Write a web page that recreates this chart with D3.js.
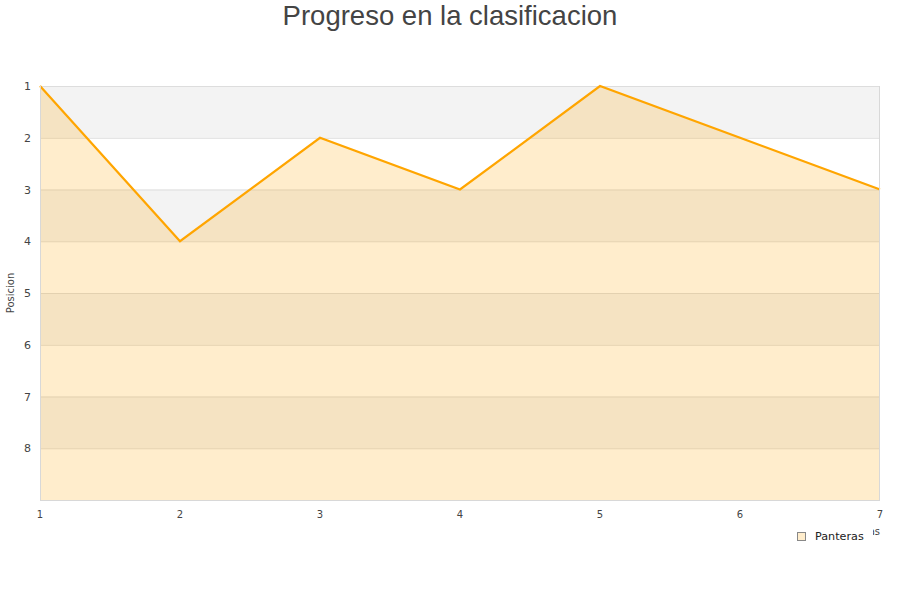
<!DOCTYPE html>
<html><head><meta charset="utf-8">
<script src="https://cdn.jsdelivr.net/npm/d3@7"></script>
<style>body{margin:0;background:#fff}svg{display:block}</style>
</head><body><svg id="c" width="900" height="600"></svg>
<script>
const jornadas = [1,2,3,4,5,6,7];
const posiciones = [1,4,2,3,1,2,3];
const yTicks = [1,2,3,4,5,6,7,8];
const title = "Progreso en la clasificacion";
const seriesName = "Panteras";

const svg = d3.select("#c");
const L=40,R=880,T=86,B=500;
const x = d3.scaleLinear().domain([1,7]).range([L,R]);
const y = d3.scaleLinear().domain([1,9]).range([T,B]);

// bands
const bands = d3.range(1,9);
svg.selectAll("rect.band").data(bands).enter().append("rect")
  .attr("x",L).attr("width",R-L)
  .attr("y",d=>y(d)).attr("height",d=>y(d+1)-y(d))
  .attr("fill",d=>d%2===1?"#f3f3f3":"#ffffff");

// grid lines
svg.selectAll("line.grid").data(d3.range(1,10)).enter().append("line")
  .attr("x1",L).attr("x2",R).attr("y1",d=>y(d)+0.5).attr("y2",d=>y(d)+0.5)
  .attr("stroke","#dddddd");

// area
const pts = jornadas.map((j,i)=>[j,posiciones[i]]);
svg.append("path").datum(pts)
  .attr("d",d3.area().x(d=>x(d[0])).y0(y(9)).y1(d=>y(d[1])))
  .attr("fill","rgba(255,165,0,0.2)");
svg.append("path").datum(pts)
  .attr("d",d3.line().x(d=>x(d[0])).y(d=>y(d[1])))
  .attr("fill","none").attr("stroke","#ffa500").attr("stroke-width",2.2);

// borders
svg.append("line").attr("x1",L+0.5).attr("x2",L+0.5).attr("y1",T).attr("y2",B+1).attr("stroke","#d8d8d8");
svg.append("line").attr("x1",R-0.5).attr("x2",R-0.5).attr("y1",T).attr("y2",B+1).attr("stroke","#d8d8d8");
svg.append("line").attr("x1",L).attr("x2",R).attr("y1",B+0.5).attr("y2",B+0.5).attr("stroke","#d8d8d8");

const font="DejaVu Sans, sans-serif";
// y tick labels
svg.selectAll("text.yt").data(yTicks).enter().append("text")
  .attr("x",31).attr("y",d=>y(d)+4).attr("text-anchor","end")
  .attr("font-family",font).attr("font-size",11).attr("fill","#444").text(d=>d);
// x tick labels
svg.selectAll("text.xt").data(jornadas).enter().append("text")
  .attr("x",d=>x(d)).attr("y",518).attr("text-anchor","middle")
  .attr("font-family",font).attr("font-size",10).attr("fill","#444").text(d=>d);

// y axis title
svg.append("text").attr("transform","translate(14,293) rotate(-90)")
  .attr("text-anchor","middle").attr("font-family",font).attr("font-size",10).attr("fill","#444").text("Posicion");

// x axis title (mostly hidden behind legend)
svg.append("text").attr("x",880).attr("y",535).attr("text-anchor","end")
  .attr("font-family",font).attr("font-size",10).attr("fill","#444").text("Jornadas");

// legend
svg.append("rect").attr("x",788).attr("y",527).attr("width",85).attr("height",22).attr("fill","#fff");
svg.append("rect").attr("x",797.5).attr("y",532.5).attr("width",8).attr("height",8)
  .attr("fill","#ffedcc").attr("stroke","#888");
svg.append("text").attr("x",815).attr("y",540).attr("font-family",font).attr("font-size",11.2).attr("fill","#222").text(seriesName);

// title
svg.append("text").attr("x",450).attr("y",25).attr("text-anchor","middle")
  .attr("font-family","Liberation Sans, Arial, sans-serif").attr("font-size",27.5).attr("fill","#444").text(title);
</script></body></html>
